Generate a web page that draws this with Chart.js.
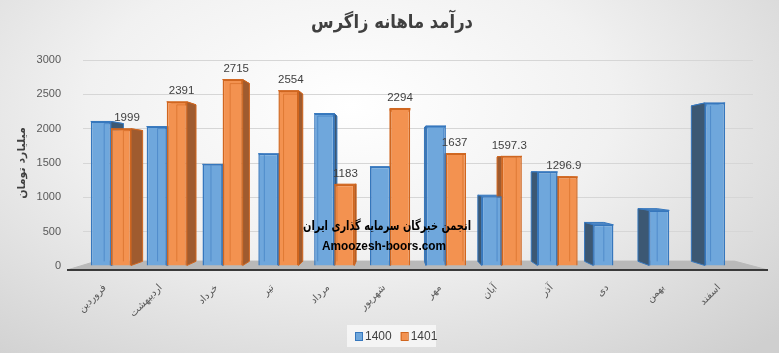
<!DOCTYPE html>
<html>
<head>
<meta charset="utf-8">
<script src="https://cdn.jsdelivr.net/npm/chart.js@4"></script>
<style>
  html, body { margin: 0; padding: 0; }
  body {
    width: 779px; height: 353px; overflow: hidden;
    background: radial-gradient(ellipse 75% 95% at 45% 30%, #ffffff 0%, #f1f1f1 45%, #cfcfcf 100%);
  }
  canvas { display: block; }
</style>
</head>
<body>
<canvas id="zagros" width="779" height="353"></canvas>
<script>
const chartTitle = 'درآمد ماهانه زاگرس';
const months = ['فروردین', 'اردیبهشت', 'خرداد', 'تیر', 'مرداد', 'شهریور', 'مهر', 'آبان', 'آذر', 'دی', 'بهمن', 'اسفند'];
const seriesNames = ['1400', '1401'];
const revenue1400 = [2105, 2030, 1480, 1635, 2220, 1445, 2040, 1015, 1370, 600, 810, 2375];
const revenue1401 = [1999, 2391, 2715, 2554, 1183, 2294, 1637, 1597.3, 1296.9, null, null, null];
const yTicks = [0, 500, 1000, 1500, 2000, 2500, 3000];

const seriesStyle = [
  { front: '#6fa7dc', border: '#3677bd', side: '#3c5873', top: '#4f87c4' },
  { front: '#f39250', border: '#d0661f', side: '#9f5b2f', top: '#d37434' },
];

// fake 3d: back corners move a little toward a vanishing point
const VP_X = 395;
const VP_Y = 171;
const DEPTH = 0.044;

function back(x, y, depth = DEPTH) {
  return [x + depth * (VP_X - x), y + depth * (VP_Y - y)];
}

function barBox(el) {
  const p = el.getProps(['x', 'y', 'base', 'width'], true);
  return { left: p.x - p.width / 2, right: p.x + p.width / 2, top: p.y, bottom: p.base, x: p.x };
}

function quad(ctx, pts) {
  ctx.beginPath();
  ctx.moveTo(pts[0][0], pts[0][1]);
  for (let k = 1; k < pts.length; k++) ctx.lineTo(pts[k][0], pts[k][1]);
  ctx.closePath();
  ctx.fill();
  ctx.stroke();
}

const bars3d = {
  id: 'bars3d',
  beforeDatasetsDraw(chart) {
    const ctx = chart.ctx;
    const a = chart.chartArea;
    const fl = a.left - 16, fr = a.right + 15, fy = a.bottom + 4;
    ctx.save();
    // floor
    ctx.fillStyle = '#b9b9b9';
    ctx.strokeStyle = '#b9b9b9';
    quad(ctx, [[fl, fy], [fr, fy], back(fr, fy, 0.09), back(fl, fy, 0.09)]);
    ctx.strokeStyle = '#3a3a3a';
    ctx.lineWidth = 2;
    ctx.beginPath();
    ctx.moveTo(fl, fy);
    ctx.lineTo(fr, fy);
    ctx.stroke();

    // side and top faces, front faces come from chart.js on top of them
    chart.data.datasets.forEach((ds, i) => {
      const meta = chart.getDatasetMeta(i);
      const st = seriesStyle[i];
      meta.data.forEach((el, j) => {
        if (ds.data[j] == null) return;
        const b = barBox(el);
        ctx.lineWidth = 1;
        ctx.strokeStyle = st.border;
        ctx.fillStyle = st.top;
        quad(ctx, [[b.left, b.top], [b.right, b.top], back(b.right, b.top), back(b.left, b.top)]);
        ctx.fillStyle = st.side;
        const edge = b.right < VP_X ? b.right : b.left;
        quad(ctx, [[edge, b.top], back(edge, b.top), back(edge, b.bottom), [edge, b.bottom]]);
      });
    });
    ctx.restore();
  },
  afterDatasetsDraw(chart) {
    const ctx = chart.ctx;
    ctx.save();
    chart.data.datasets.forEach((ds, i) => {
      const meta = chart.getDatasetMeta(i);
      const st = seriesStyle[i];
      meta.data.forEach((el, j) => {
        if (ds.data[j] == null) return;
        const b = barBox(el);
        // back edges seen through the front face
        const innerX = b.right < VP_X ? back(b.left, b.top)[0] : back(b.right, b.top)[0];
        const backTop = back(b.x, b.top)[1];
        const backBottom = back(b.x, b.bottom)[1];
        ctx.strokeStyle = st.border;
        ctx.globalAlpha = 0.55;
        ctx.lineWidth = 1;
        ctx.beginPath();
        ctx.moveTo(innerX, Math.max(backTop, b.top + 1));
        ctx.lineTo(innerX, backBottom);
        if (backTop > b.top + 1) {
          ctx.moveTo(Math.max(innerX, b.left), backTop);
          ctx.lineTo(Math.min(back(b.right, b.top)[0], b.right), backTop);
        }
        ctx.stroke();
        ctx.globalAlpha = 1;
        if (i === 1) {
          ctx.fillStyle = '#404040';
          ctx.font = '11.5px "Liberation Sans", Arial, sans-serif';
          ctx.textAlign = 'center';
          ctx.textBaseline = 'bottom';
          const bx = (b.x + back(b.x, b.top)[0]) / 2;
          ctx.fillText(String(ds.data[j]), bx, Math.min(b.top, backTop) - 5);
        }
      });
    });

    // watermark
    ctx.fillStyle = '#000000';
    ctx.textAlign = 'center';
    ctx.textBaseline = 'middle';
    ctx.font = 'bold 13px "DejaVu Sans", sans-serif';
    ctx.fillText('انجمن خبرگان سرمایه گذاری ایران', 387, 227, 168);
    ctx.font = 'bold 13px "Liberation Sans", Arial, sans-serif';
    ctx.fillText('Amoozesh-boors.com', 384, 246, 124);
    ctx.restore();
  },
};

// title and legend sit a bit right of the plot centre, as in the source picture
const frame = {
  id: 'frame',
  afterDraw(chart) {
    const ctx = chart.ctx;
    ctx.save();
    ctx.fillStyle = '#404040';
    ctx.textAlign = 'center';
    ctx.textBaseline = 'middle';
    ctx.font = 'bold 19px "DejaVu Sans", sans-serif';
    ctx.fillText(chartTitle, 392, 23, 162);

    ctx.fillStyle = 'rgba(246,246,246,0.9)';
    ctx.fillRect(347, 325, 89, 22);
    ctx.font = '12px "Liberation Sans", Arial, sans-serif';
    ctx.textAlign = 'left';
    let x = 355;
    seriesNames.forEach((name, i) => {
      ctx.fillStyle = seriesStyle[i].front;
      ctx.strokeStyle = seriesStyle[i].border;
      ctx.lineWidth = 1;
      ctx.fillRect(x, 332, 7, 8);
      ctx.strokeRect(x + 0.5, 332.5, 7, 8);
      ctx.fillStyle = '#404040';
      ctx.fillText(name, x + 10, 337);
      x += 10 + ctx.measureText(name).width + 9;
    });
    ctx.restore();
  },
};

new Chart(document.getElementById('zagros'), {
  type: 'bar',
  data: {
    labels: months,
    datasets: [
      {
        label: seriesNames[0],
        data: revenue1400,
        backgroundColor: seriesStyle[0].front,
        borderColor: seriesStyle[0].border,
        borderWidth: 1.5,
      },
      {
        label: seriesNames[1],
        data: revenue1401,
        backgroundColor: seriesStyle[1].front,
        borderColor: seriesStyle[1].border,
        borderWidth: 1.5,
      },
    ],
  },
  options: {
    responsive: false,
    animation: false,
    devicePixelRatio: 1,
    layout: { padding: { left: 0, right: 26, top: 60, bottom: 37 } },
    datasets: {
      bar: { categoryPercentage: 0.72, barPercentage: 1 },
    },
    plugins: {
      title: { display: false },
      legend: { display: false },
      tooltip: { enabled: false },
    },
    scales: {
      x: {
        grid: { display: false },
        border: { display: false },
        ticks: {
          color: '#595959',
          font: { family: '"DejaVu Sans", sans-serif', size: 10 },
          minRotation: 45,
          maxRotation: 45,
          padding: 8,
          labelOffset: -6,
        },
        afterFit(s) { s.height = 50; },
      },
      y: {
        min: 0,
        max: 3000,
        afterBuildTicks(s) { s.ticks = yTicks.map(v => ({ value: v })); },
        grid: { color: '#d6d6d6', drawTicks: false },
        border: { display: false },
        ticks: {
          color: '#595959',
          font: { family: '"Liberation Sans", Arial, sans-serif', size: 11 },
          padding: 22,
          callback: v => String(v),
        },
        title: {
          display: true,
          text: 'میلیارد تومان',
          color: '#404040',
          font: { family: '"DejaVu Sans", sans-serif', size: 11, weight: 'bold' },
          padding: { top: 16, bottom: 0 },
        },
        afterFit(s) { s.width = 83; },
      },
    },
  },
  plugins: [bars3d, frame],
});
</script>
</body>
</html>
